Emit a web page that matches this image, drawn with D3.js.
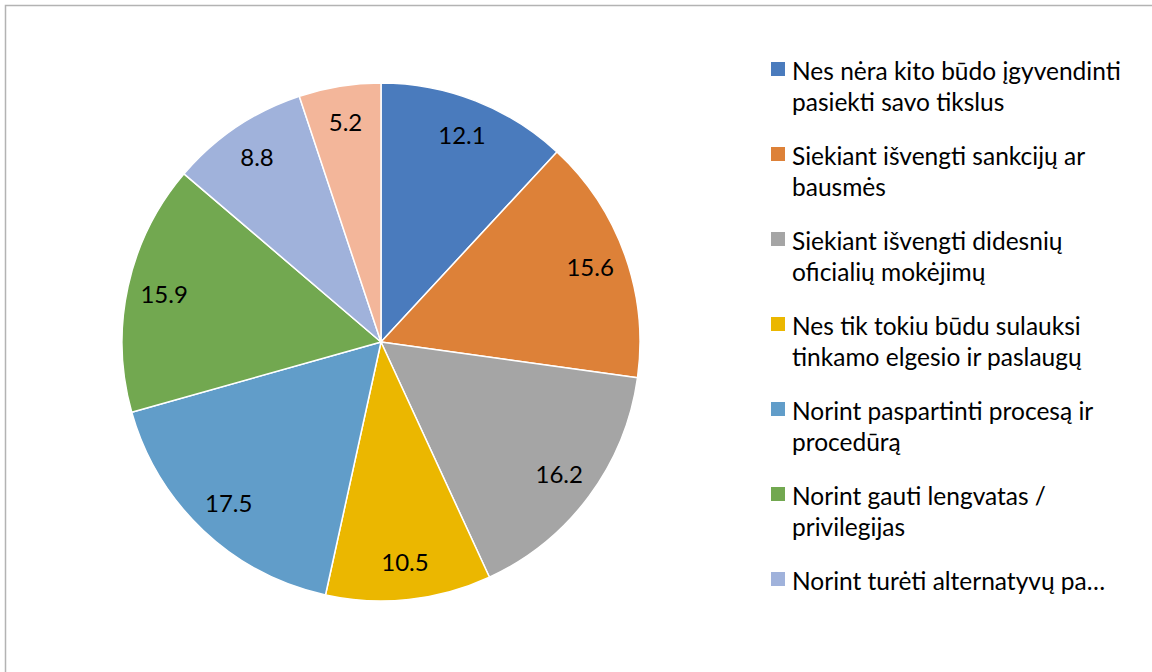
<!DOCTYPE html>
<html>
<head>
<meta charset="utf-8">
<script src="https://cdn.jsdelivr.net/npm/d3@7"></script>
<style>
  body { margin: 0; background: #fff; }
  svg { display: block; }
</style>
</head>
<body>
<div id="chart"></div>
<script>
// Slice names (line breaks as in the legend) and their values
const categories = [
  "Nes nėra kito būdo įgyvendinti\npasiekti savo tikslus",
  "Siekiant išvengti sankcijų ar\nbausmės",
  "Siekiant išvengti didesnių\noficialių mokėjimų",
  "Nes tik tokiu būdu sulauksi\ntinkamo elgesio ir paslaugų",
  "Norint paspartinti procesą ir\nprocedūrą",
  "Norint gauti lengvatas /\nprivilegijas",
  "Norint turėti alternatyvų pa…",
  "Kita"
];
const values = [12.1, 15.6, 16.2, 10.5, 17.5, 15.9, 8.8, 5.2];
const colors = ["#4a7bbd", "#dd8138", "#a5a5a5", "#ebb700", "#619dc9", "#72a850", "#a0b2db", "#f3b69a"];

// Only the first seven fit in the legend box
const legendCount = 7;

const width = 1152;
const height = 672;
const font = "Lato, 'Open Sans', sans-serif";

const svg = d3.select("#chart")
  .append("svg")
  .attr("width", width)
  .attr("height", height);

// Chart area border (runs off the right and bottom edges)
svg.append("rect")
  .attr("x", 5.5)
  .attr("y", 5.5)
  .attr("width", width + 10)
  .attr("height", height + 10)
  .attr("fill", "#fff")
  .attr("stroke", "#b3b3b3")
  .attr("stroke-width", 1.5);

const data = categories.map((name, i) => ({ name, value: values[i], color: colors[i] }));

const cx = 381;
const cy = 342;
const radius = 259;

const pie = d3.pie().sort(null).value((d) => d.value);
const arc = d3.arc().innerRadius(0).outerRadius(radius);
const labelArc = d3.arc().innerRadius(222).outerRadius(222);

const g = svg.append("g").attr("transform", `translate(${cx},${cy})`);

const slices = g.selectAll("g.slice")
  .data(pie(data))
  .join("g")
  .attr("class", "slice");

slices.append("path")
  .attr("d", arc)
  .attr("fill", (d) => d.data.color)
  .attr("stroke", "#fff")
  .attr("stroke-width", 1.5)
  .attr("stroke-linejoin", "round");

slices.append("text")
  .attr("transform", (d) => `translate(${labelArc.centroid(d)})`)
  .attr("text-anchor", "middle")
  .attr("dy", "0.35em")
  .attr("font-family", font)
  .attr("font-size", 24)
  .attr("fill", "#000")
  .text((d) => d.data.value.toFixed(1));

// Legend
const legend = svg.append("g").attr("transform", "translate(771,0)");

const items = legend.selectAll("g.item")
  .data(data.slice(0, legendCount))
  .join("g")
  .attr("class", "item")
  .attr("transform", (d, i) => `translate(0,${80 + i * 85})`);

items.append("rect")
  .attr("x", 0)
  .attr("y", -18)
  .attr("width", 14)
  .attr("height", 14)
  .attr("fill", (d) => d.color);

items.append("text")
  .attr("font-family", font)
  .attr("font-size", 24.5)
  .attr("fill", "#000")
  .selectAll("tspan")
  .data((d) => d.name.split("\n"))
  .join("tspan")
  .attr("x", 21)
  .attr("y", (d, i) => i * 30.5)
  .text((d) => d);
</script>
</body>
</html>
